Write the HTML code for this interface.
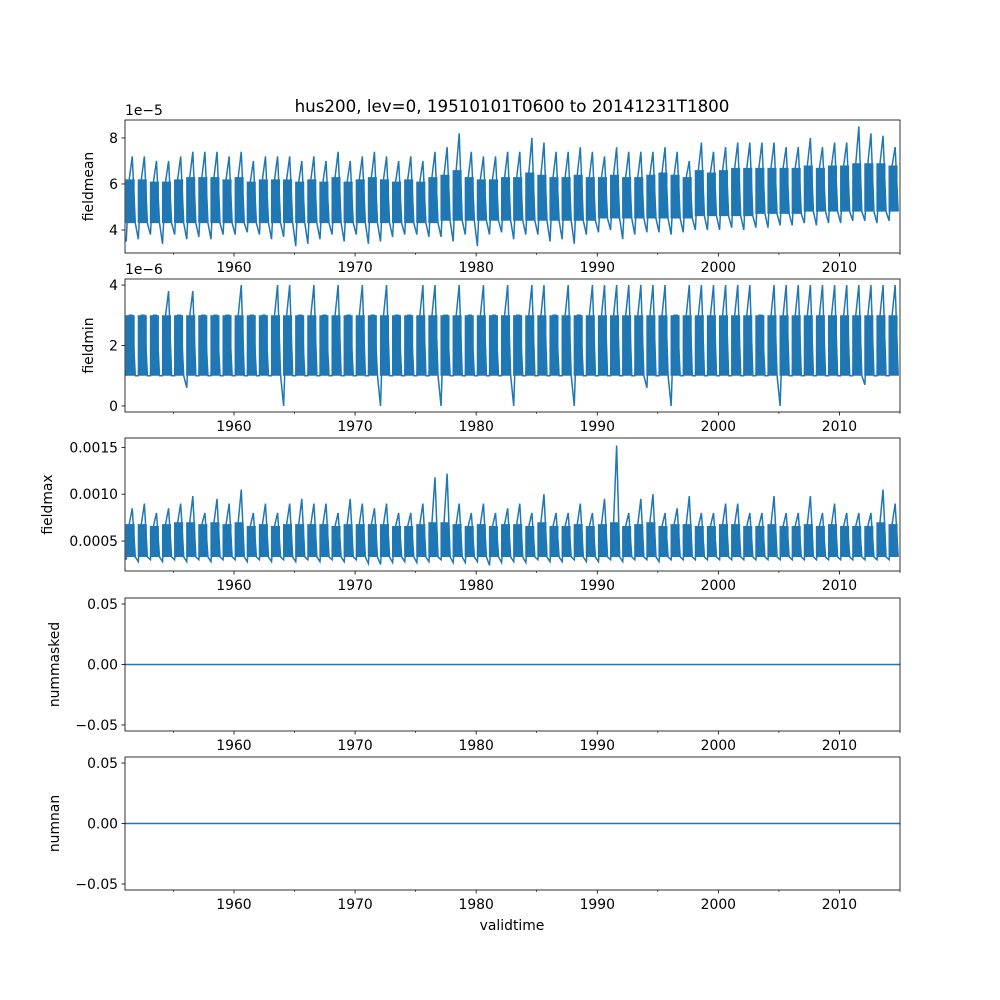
<!DOCTYPE html>
<html><head><meta charset="utf-8"><style>
body{margin:0;background:#fff}
svg{display:block;font-family:"DejaVu Sans","Liberation Sans",sans-serif}
</style></head><body>
<svg id="fig" width="1000" height="1000" viewBox="0 0 1000 1000"></svg>
<script>
// ---- data (estimated per year, 1951..2014) ----
const years = Array.from({length:64},(_,i)=>1951+i);
const meanMax=[7.2,7.2,7.0,7.0,7.2,7.4,7.4,7.4,7.2,7.4,7.0,7.2,7.2,7.2,7.0,7.2,7.0,7.4,7.0,7.2,7.4,7.2,7.0,7.2,7.0,7.4,7.6,8.2,7.4,7.2,7.2,7.4,7.4,8.0,7.8,7.4,7.4,7.6,7.4,7.2,7.6,7.4,7.4,7.4,7.6,7.4,7.0,7.8,7.4,7.6,7.8,7.8,7.8,7.8,7.6,7.6,8.0,7.6,7.8,7.8,8.5,8.2,8.1,7.6];
const meanMin=[3.5,3.6,3.8,3.4,3.8,3.6,3.7,3.6,3.8,3.8,3.9,3.8,3.6,3.7,3.3,3.4,3.6,3.8,3.5,3.8,3.4,3.5,3.7,3.8,3.8,3.7,3.7,3.5,3.8,3.3,3.8,3.9,3.6,3.8,3.8,3.5,3.6,3.4,3.8,3.9,4.0,3.6,3.8,3.9,3.9,3.8,3.9,4.0,4.0,4.0,4.1,4.0,4.1,4.1,4.2,4.2,4.3,4.2,4.3,4.3,4.4,4.4,4.3,4.4];
const meanLo=[4.3,4.3,4.3,4.3,4.3,4.3,4.3,4.3,4.3,4.3,4.3,4.3,4.3,4.3,4.3,4.3,4.3,4.3,4.3,4.3,4.3,4.3,4.3,4.3,4.3,4.3,4.4,4.4,4.4,4.4,4.4,4.4,4.4,4.4,4.4,4.4,4.4,4.4,4.4,4.5,4.5,4.5,4.5,4.5,4.5,4.5,4.5,4.6,4.6,4.6,4.6,4.6,4.7,4.7,4.7,4.7,4.8,4.8,4.8,4.8,4.8,4.8,4.8,4.8];
const meanHi=[6.2,6.2,6.1,6.1,6.2,6.3,6.3,6.3,6.2,6.3,6.1,6.2,6.2,6.2,6.1,6.2,6.1,6.3,6.1,6.2,6.3,6.2,6.1,6.2,6.1,6.3,6.4,6.6,6.3,6.2,6.2,6.3,6.3,6.5,6.4,6.3,6.3,6.4,6.3,6.3,6.4,6.3,6.3,6.4,6.5,6.4,6.3,6.6,6.5,6.6,6.7,6.7,6.7,6.7,6.7,6.7,6.8,6.7,6.8,6.8,6.9,6.9,6.9,6.8];
const minMax=[3,3,3,3.8,3,3.8,3,3,3,4,3,3,4,4,3,4,3,4,3,4,3,4,3,3,4,4,3,4,3,4,3,4,3,4,4,3,4,3,4,4,4,4,4,4,4,3,4,4,4,4,4,4,3,4,4,4,4,4,4,4,4,4,4,4];
const minMin=[1,1,1,1,1,0.6,1,1,1,1,1,1,1,0,1,1,1,1,1,1,1,0,1,1,1,1,0,1,1,1,1,1,0,1,1,1,1,0,1,1,1,1,1,0.6,1,0,1,1,1,1,1,1,1,1,0,1,1,1,1,1,1,0.7,1,1];
const minLo=[1,1,1,1,1,1,1,1,1,1,1,1,1,1,1,1,1,1,1,1,1,1,1,1,1,1,1,1,1,1,1,1,1,1,1,1,1,1,1,1,1,1,1,1,1,1,1,1,1,1,1,1,1,1,1,1,1,1,1,1,1,1,1,1];
const minHi=[3,3,3,3,3,3,3,3,3,3,3,3,3,3,3,3,3,3,3,3,3,3,3,3,3,3,3,3,3,3,3,3,3,3,3,3,3,3,3,3,3,3,3,3,3,3,3,3,3,3,3,3,3,3,3,3,3,3,3,3,3,3,3,3];
const maxMax=[0.00085,0.0009,0.0008,0.00085,0.0009,0.00098,0.0008,0.00095,0.0009,0.00105,0.0008,0.0009,0.0008,0.0009,0.00095,0.0009,0.0009,0.0008,0.00095,0.0009,0.00085,0.0009,0.0008,0.0008,0.0009,0.00118,0.00122,0.0009,0.0008,0.0009,0.0008,0.00085,0.0009,0.0008,0.001,0.0008,0.0008,0.0009,0.0008,0.00095,0.00152,0.0008,0.00095,0.001,0.0008,0.00085,0.00098,0.0008,0.0008,0.0009,0.0009,0.0008,0.0008,0.00098,0.0008,0.0008,0.00098,0.0008,0.0009,0.0008,0.0008,0.0008,0.00105,0.0009];
const maxMin=[0.0003,0.00028,0.0003,0.00028,0.0003,0.00028,0.0003,0.00028,0.0003,0.0003,0.00028,0.0003,0.00028,0.0003,0.00028,0.0003,0.00028,0.0003,0.00028,0.0003,0.00026,0.00025,0.00027,0.00028,0.00027,0.00028,0.0003,0.00027,0.00027,0.00028,0.00024,0.00027,0.00028,0.00027,0.0003,0.00028,0.00028,0.0003,0.00028,0.00028,0.0003,0.00028,0.0003,0.0003,0.00028,0.0003,0.0003,0.0003,0.0003,0.0003,0.0003,0.0003,0.0003,0.0003,0.0003,0.0003,0.0003,0.0003,0.0003,0.0003,0.0003,0.0003,0.0003,0.0003];
const maxLo=years.map(()=>0.00033);
const maxHi=[0.00068,0.00068,0.00066,0.00068,0.0007,0.0007,0.00068,0.0007,0.00068,0.0007,0.00066,0.00068,0.00066,0.00068,0.00068,0.00068,0.00068,0.00066,0.00068,0.00068,0.00068,0.00068,0.00066,0.00066,0.00068,0.0007,0.0007,0.00068,0.00066,0.00068,0.00066,0.00068,0.00068,0.00066,0.0007,0.00066,0.00066,0.00068,0.00066,0.00068,0.0007,0.00066,0.00068,0.0007,0.00066,0.00068,0.00068,0.00066,0.00066,0.00068,0.00068,0.00066,0.00066,0.00068,0.00066,0.00066,0.00068,0.00066,0.00068,0.00066,0.00066,0.00066,0.0007,0.00068];
const xTicks=[1960,1970,1980,1990,2000,2010];

// ---- layout ----
const NS="http://www.w3.org/2000/svg";
const svg=document.getElementById('fig');
const L=125,R=900,X0=1951,X1=2015,C="#1f77b4";
const xs=v=>L+(v-X0)/(X1-X0)*(R-L);
function el(tag,attrs,parent){const e=document.createElementNS(NS,tag);for(const k in attrs)e.setAttribute(k,attrs[k]);(parent||svg).appendChild(e);return e;}
function txt(s,attrs,parent){const t=el('text',attrs,parent);t.textContent=s;return t;}

const panels=[
 {name:'fieldmean',top:120,bot:253,y0:3.0,y1:8.78,ticks:[4,6,8],fmt:v=>String(v),off:'1e\u22125',hi:meanMax,lo:meanMin,bHi:meanHi,bLo:meanLo,lx:93},
 {name:'fieldmin',top:279,bot:412,y0:-0.2,y1:4.2,ticks:[0,2,4],fmt:v=>String(v),off:'1e\u22126',hi:minMax,lo:minMin,bHi:minHi,bLo:minLo,lx:93},
 {name:'fieldmax',top:438,bot:571,y0:0.00018,y1:0.0016,ticks:[0.0005,0.001,0.0015],fmt:v=>v.toFixed(4),hi:maxMax,lo:maxMin,bHi:maxHi,bLo:maxLo,lx:52},
 {name:'nummasked',top:598,bot:731,y0:-0.055,y1:0.055,ticks:[-0.05,0,0.05],fmt:v=>(v<0?'\u2212':'')+Math.abs(v).toFixed(2),flat:0,lx:59},
 {name:'numnan',top:757,bot:890,y0:-0.055,y1:0.055,ticks:[-0.05,0,0.05],fmt:v=>(v<0?'\u2212':'')+Math.abs(v).toFixed(2),flat:0,lx:59}
];

txt('hus200, lev=0, 19510101T0600 to 20141231T1800',{x:512,y:112,'font-size':16.7,'text-anchor':'middle',});

panels.forEach(p=>{
  const g=el('g',{});
  
  
  const ys=v=>p.bot-(v-p.y0)/(p.y1-p.y0)*(p.bot-p.top);
  const clipId='clip-'+p.name;
  const cp=el('clipPath',{id:clipId},g);el('rect',{x:L,y:p.top,width:R-L,height:p.bot-p.top},cp);
  const dg=el('g',{'clip-path':'url(#'+clipId+')'},g);
  
  
  if(p.flat!==undefined){
    const ln=el('line',{x1:L,x2:R,y1:ys(p.flat),y2:ys(p.flat),stroke:C,'stroke-width':1.5},dg);
    
    
  } else {
    let d='';
    years.forEach((y,i)=>{
      d+='M'+xs(y+0.05)+','+ys(p.bLo[i])+'L'+xs(y+0.05)+','+ys(p.bHi[i])+'L'+xs(y+0.8)+','+ys(p.bHi[i])+'L'+xs(y+0.8)+','+ys(p.bLo[i])+'Z';
    });
    const band=el('path',{d:d,fill:C},dg);
    
    
    let dl='';
    years.forEach((y,i)=>{
      dl+=(i?'L':'M')+xs(y+0.1)+','+ys(p.lo[i])+'L'+xs(y+0.35)+','+ys(p.bHi[i])+'L'+xs(y+0.6)+','+ys(p.hi[i])+'L'+xs(y+0.85)+','+ys(p.bLo[i]);
    });
    const ln=el('path',{d:dl,fill:'none',stroke:C,'stroke-width':1.5},dg);
    
    
  }
  el('rect',{x:L,y:p.top,width:R-L,height:p.bot-p.top,fill:'none',stroke:'#000','stroke-width':0.8},g);
  xTicks.forEach(t=>{
    el('line',{x1:xs(t),x2:xs(t),y1:p.bot,y2:p.bot+3.5,stroke:'#000','stroke-width':0.8},g);
    const lab=txt(String(t),{x:xs(t),y:p.bot+19,'font-size':13.9,'text-anchor':'middle'},g);
    
    
  });
  for(let t=1955;t<=2015;t+=10){el('line',{x1:xs(t),x2:xs(t),y1:p.bot,y2:p.bot+2,stroke:'#000','stroke-width':0.6},g);}
  p.ticks.forEach(t=>{
    el('line',{x1:L-3.5,x2:L,y1:ys(t),y2:ys(t),stroke:'#000','stroke-width':0.8},g);
    const lab=txt(p.fmt(t),{x:L-7,y:ys(t)+5,'font-size':13.9,'text-anchor':'end'},g);
    
    
  });
  if(p.off){const o=txt(p.off,{x:L,y:p.top-5,'font-size':13.9},g);}
  const yl=txt(p.name,{x:p.lx,y:(p.top+p.bot)/2,'font-size':13.9,'text-anchor':'middle',transform:'rotate(-90 '+p.lx+' '+(p.top+p.bot)/2+')'},g);
  
  
});
txt('validtime',{x:512,y:930,'font-size':13.9,'text-anchor':'middle',});
</script>
</body></html>
